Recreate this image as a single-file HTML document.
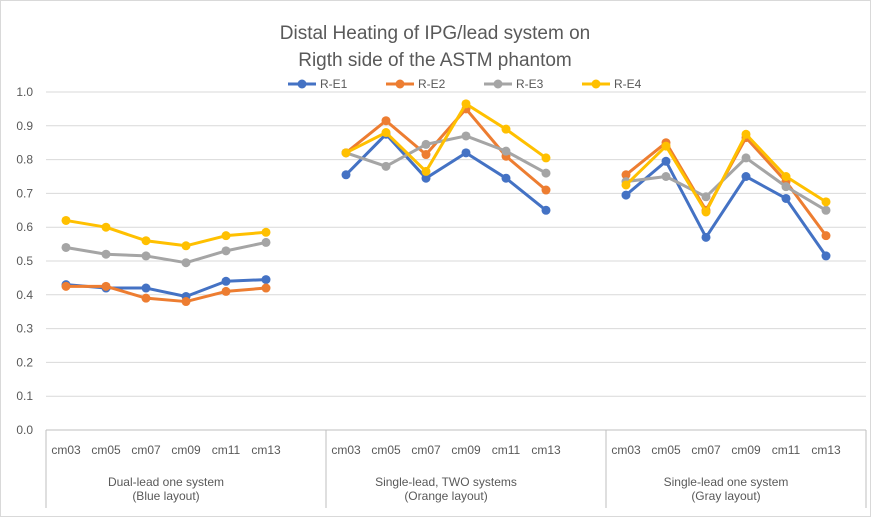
<!DOCTYPE html>
<html><head><meta charset="utf-8"><style>
body{margin:0;background:#fff;font-family:"Liberation Sans",Arial,sans-serif;}
svg text{font-family:"Liberation Sans",Arial,sans-serif;fill:#595959;}
</style></head><body>
<svg id="chart" width="871" height="517">
<rect x="0.5" y="0.5" width="870" height="516" fill="#fff" stroke="#d9d9d9"/>
<text x="435" y="39" text-anchor="middle" font-size="19">Distal Heating of IPG/lead system on</text>
<text x="435" y="66" text-anchor="middle" font-size="19">Rigth side of the ASTM phantom</text>
<g id="grid"></g><g id="axes"></g><g id="series"></g><g id="legend"></g>
</svg>
<script>
const categories=["cm03","cm05","cm07","cm09","cm11","cm13"];
const groups=[["Dual-lead one system","(Blue layout)"],["Single-lead, TWO systems","(Orange layout)"],["Single-lead one system","(Gray layout)"]];
const seriesNames=["R-E1","R-E2","R-E3","R-E4"];
const seriesColors=["#4472c4","#ed7d31","#a5a5a5","#ffc000"];
const rE1=[0.43,0.42,0.42,0.395,0.44,0.445, 0.755,0.875,0.745,0.82,0.745,0.65, 0.695,0.795,0.57,0.75,0.685,0.515];
const rE2=[0.425,0.425,0.39,0.38,0.41,0.42, 0.82,0.915,0.815,0.95,0.81,0.71, 0.755,0.85,0.65,0.865,0.735,0.575];
const rE3=[0.54,0.52,0.515,0.495,0.53,0.555, 0.82,0.78,0.845,0.87,0.825,0.76, 0.735,0.75,0.69,0.805,0.72,0.65];
const rE4=[0.62,0.60,0.56,0.545,0.575,0.585, 0.82,0.88,0.765,0.965,0.89,0.805, 0.725,0.84,0.645,0.875,0.75,0.675];
const yTicks=[0,0.1,0.2,0.3,0.4,0.5,0.6,0.7,0.8,0.9,1.0];
const NS="http://www.w3.org/2000/svg";
const y0=430,yScale=338,left=46,slot=40;
const y=v=>y0-v*yScale;
const xIdx=i=>{const g=Math.floor(i/6),k=i%6;return left+slot/2+(g*7+k)*slot;};
function mk(tag,attrs,parent,txt){const e=document.createElementNS(NS,tag);for(const a in attrs)e.setAttribute(a,attrs[a]);if(txt!==undefined)e.textContent=txt;parent.appendChild(e);return e;}
const grid=document.getElementById('grid'),axes=document.getElementById('axes'),ser=document.getElementById('series'),leg=document.getElementById('legend');
yTicks.forEach(t=>{
 if(t>0){const l=mk('line',{x1:left,x2:866,y1:y(t),y2:y(t),stroke:'#d9d9d9','stroke-width':1},grid);
 
 }
 const tx=mk('text',{x:33,y:y(t)+4,'text-anchor':'end','font-size':12},axes,t.toFixed(1));
 
 
});
const ax=mk('line',{x1:left,x2:866,y1:y0,y2:y0,stroke:'#bfbfbf'},axes);


[left,left+7*slot,left+14*slot,866].forEach(xx=>{
 const s=mk('line',{x1:xx,x2:xx,y1:y0,y2:508,stroke:'#bfbfbf'},axes);
 
 
});
for(let i=0;i<18;i++){
 const t=mk('text',{x:xIdx(i),y:454,'text-anchor':'middle','font-size':12},axes,categories[i%6]);
 
 
}
groups.forEach((g,gi)=>{
 const cx=(xIdx(gi*6)+xIdx(gi*6+5))/2;
 g.forEach((line,li)=>{
  const t=mk('text',{x:cx,y:486+li*14,'text-anchor':'middle','font-size':12},axes,line);
  
  
 });
});
[rE1,rE2,rE3,rE4].forEach((vals,si)=>{
 for(let g=0;g<3;g++){
  const pts=[];for(let k=0;k<6;k++){const i=g*6+k;pts.push(xIdx(i)+','+y(vals[i]));}
  const p=mk('polyline',{points:pts.join(' '),fill:'none',stroke:seriesColors[si],'stroke-width':3,'stroke-linejoin':'round'},ser);
  
  
 }
 vals.forEach((v,i)=>{
  const c=mk('circle',{cx:xIdx(i),cy:y(v),r:4.5,fill:seriesColors[si]},ser);
  
  
 });
});
const legX=[288,386,484,582];
seriesNames.forEach((n,si)=>{
 const l=mk('line',{x1:legX[si],x2:legX[si]+28,y1:84,y2:84,stroke:seriesColors[si],'stroke-width':3},leg);
 
 
 const c=mk('circle',{cx:legX[si]+14,cy:84,r:4.5,fill:seriesColors[si]},leg);
 
 
 const t=mk('text',{x:legX[si]+32,y:88,'font-size':12},leg,n);
 
 
});
</script>
</body></html>
